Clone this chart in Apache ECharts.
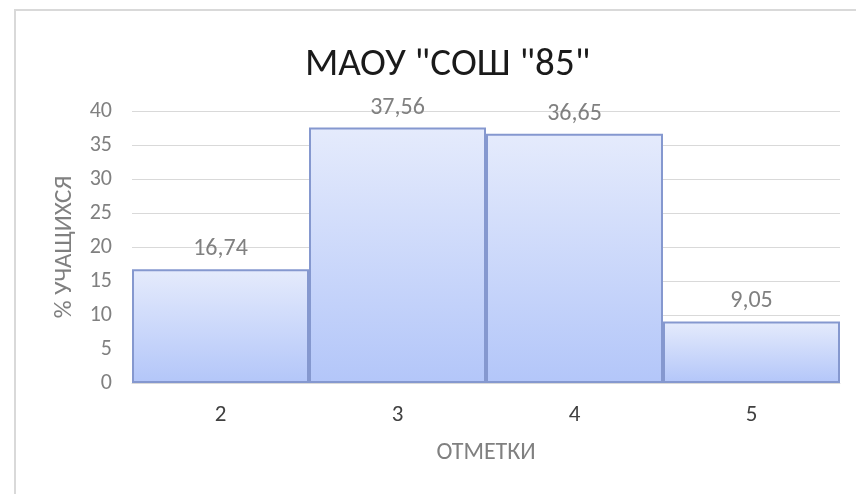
<!DOCTYPE html>
<html>
<head>
<meta charset="utf-8">
<script src="https://cdn.jsdelivr.net/npm/echarts@6/dist/echarts.min.js"></script>
<style>
  html, body { margin: 0; padding: 0; background: #fff; }
  #chart { width: 856px; height: 494px; }
</style>
</head>
<body>
<div id="chart"></div>
<script>
// данные диаграммы
var marks = ['2', '3', '4', '5'];
var percents = [16.74, 37.56, 36.65, 9.05];
var titleText = 'МАОУ "СОШ "85"';

var chart = echarts.init(document.getElementById('chart'));
var font = 'Carlito, Lato, "Open Sans", sans-serif';

var option = {
  animation: false,
  backgroundColor: '#fff',
  graphic: [{
    type: 'rect',
    shape: { x: 15, y: 10, width: 900, height: 600 },
    style: { fill: 'none', stroke: '#d9d9d9', lineWidth: 2 },
    silent: true
  }],
  title: {
    text: titleText,
    left: 300,
    top: 41,
    textStyle: { fontFamily: font, fontSize: 39, fontWeight: 'normal', color: '#1a1a1a' }
  },
  grid: { left: 132, right: 16, top: 111, bottom: 111 },
  xAxis: {
    type: 'category',
    data: marks,
    name: 'ОТМЕТКИ',
    nameLocation: 'middle',
    nameGap: 58,
    nameTextStyle: { fontFamily: font, fontSize: 24, color: '#808080' },
    axisLine: { lineStyle: { color: '#d9d9d9', width: 1 } },
    axisTick: { show: false },
    axisLabel: { fontFamily: font, fontSize: 23, color: '#404040', margin: 21 }
  },
  yAxis: {
    type: 'value',
    min: 0,
    max: 40,
    interval: 5,
    name: '% УЧАЩИХСЯ',
    nameLocation: 'middle',
    nameGap: 55,
    nameTextStyle: { fontFamily: font, fontSize: 25, color: '#808080' },
    axisLine: { show: false },
    axisTick: { show: false },
    axisLabel: { fontFamily: font, fontSize: 22, color: '#808080', margin: 20 },
    splitLine: { lineStyle: { color: '#d9d9d9', width: 1 } }
  },
  series: [{
    type: 'bar',
    data: percents,
    barCategoryGap: 0,
    itemStyle: {
      color: new echarts.graphic.LinearGradient(0, 0, 0, 1, [
        { offset: 0, color: '#e5ebfc' },
        { offset: 1, color: '#b3c6f9' }
      ]),
      borderColor: '#8598cf',
      borderWidth: 2
    },
    label: {
      show: true,
      position: 'top',
      distance: 8,
      fontFamily: font,
      fontSize: 24,
      color: '#808080',
      formatter: function (p) {
        return p.value.toFixed(2).replace('.', ',');
      }
    }
  }]
};

chart.setOption(option);
</script>
</body>
</html>
